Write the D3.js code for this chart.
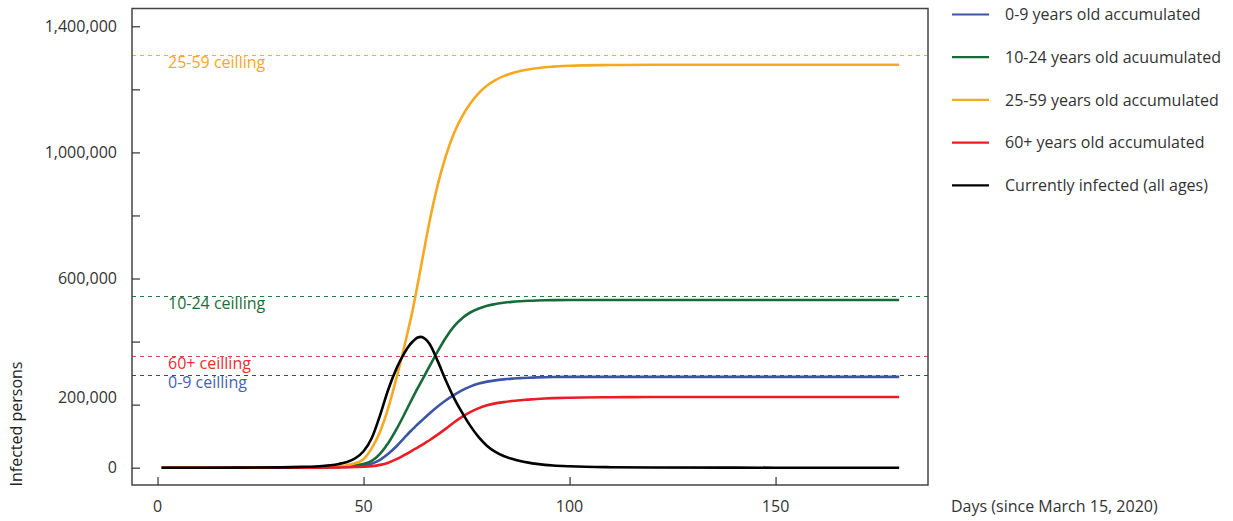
<!DOCTYPE html>
<html>
<head>
<meta charset="utf-8">
<script src="https://cdn.jsdelivr.net/npm/d3@7"></script>
<style>
  html, body { margin: 0; padding: 0; background: #fff; }
  svg { display: block; font-family: "Open Sans", "Noto Sans", sans-serif; }
</style>
</head>
<body>
<svg id="chart" width="1233" height="521"></svg>
<script>
// ---- data ----
const days = [1,10,20,30,35,40,42,44,46,48,50,52,54,56,58,60,61,62,63,64,65,66,68,70,72,74,76,78,80,82,84,86,88,90,92,94,96,100,110,120,140,160,180];

const age0_9 = [0,0,0,100,300, 800,1200,1800,2600,4500, 7000,13000,25000,44000,68000, 96000,110000,123000,136000,148000, 160000,172000,194000,214000,231000, 246000,258000,267000,273000,277000, 280000,282500,284000,285500,286500, 287000,287500,288000,288000,288000, 288000,288000,288000];
const age10_24 = [0,0,0,300,800, 1500,2200,3200,4800,7500, 12000,22000,44000,78000,122000, 172000,198000,224000,249000,273000, 297000,321000,369000,413000,449000, 475000,493000,505000,514000,519000, 523000,526000,528000,529500,530500, 531000,531500,532000,532000,532000, 532000,532000,532000];
const age25_59 = [0,0,0,300,800, 2000,3000,5000,8000,14000, 27000,62000,114000,190000,285000, 390000,446000,505000,572000,642000, 712000,780000,897000,990000,1062000, 1116000,1157000,1189000,1212000,1229000, 1242000,1251000,1258000,1263000,1267000, 1270000,1272000,1275000,1277000,1278000, 1278000,1278000,1278000];
const age60 = [0,0,0,50,100, 300,500,800,1200,2000, 3000,5000,9000,16000,27000, 41000,48000,56000,63000,71000, 79000,87000,105000,124000,144000, 162000,177000,189000,198000,204000, 208000,211500,214000,216000,218000, 219500,220500,222000,223500,224000, 224000,224000,224000];
const current = [0,0,200,1000,2500, 5500,8000,12000,18000,30000, 52000,94000,166000,248000,315000, 366000,386000,401000,412000,415000, 408000,393000,338000,276000,220000, 173000,131000,96000,69000,50000, 37000,28000,21000,16000,12000, 9000,7000,4500,1500,500, 100,0,0];

const seriesNames = ["0-9 years old accumulated","10-24 years old acuumulated","25-59 years old accumulated","60+ years old accumulated","Currently infected (all ages)"];
const seriesColors = ["#3c55a5","#176b39","#f7a823","#ec1c24","#000000"];

const ceilingLabels = ["25-59 ceilling","10-24 ceilling","60+ ceilling","0-9 ceilling"];
const ceilingValues = [1309000, 545000, 355500, 293000];
const ceilingLineColors = ["#f5aa3a","#237a47","#e0404f","#2f4596"];
const ceilingTextColors = ["#f7a823","#1d6b3c","#ee2a35","#4563b0"];

const yMajorTicks = [0, 200000, 600000, 1000000, 1400000];
const yMinorTicks = [400000, 800000, 1200000];
const xTicks = [0, 50, 100, 150];

const xTitle = "Days (since March 15, 2020)";
const yTitle = "Infected persons";

// ---- layout ----
const svg = d3.select("#chart");
const L = 132, R = 928, T = 8.5, B = 485;
const FS = 16;

const x = d3.scaleLinear().domain([-6.2, 187]).range([L, R]);
const y = d3.scaleLinear().domain([-54900, 1456400]).range([B, T]);

svg.append("rect").attr("width",1233).attr("height",521).attr("fill","#fff");

// ceilings
const cg = svg.append("g");
ceilingValues.forEach((v,i) => {
  const yy = Math.round(y(v)) + 0.5;
  cg.append("line")
    .attr("x1", L).attr("x2", R)
    .attr("y1", yy).attr("y2", yy)
    .attr("stroke", ceilingLineColors[i]).attr("stroke-width", 1)
    .attr("stroke-dasharray", "4,4");
  cg.append("text")
    .attr("x", 168).attr("y", y(v) + 13)
    .attr("fill", ceilingTextColors[i])
    .attr("font-size", FS)
    .text(ceilingLabels[i]);
});

// series
const allSeries = [age0_9, age10_24, age25_59, age60, current];
const line = d3.line()
  .x((d,i) => x(days[i]))
  .y(d => y(d))
  .curve(d3.curveMonotoneX);

allSeries.forEach((s,i) => {
  svg.append("path")
    .datum(s)
    .attr("d", line)
    .attr("fill","none")
    .attr("stroke", seriesColors[i])
    .attr("stroke-width", 2.6)
    .attr("stroke-linejoin","round");
});

// frame
svg.append("rect")
  .attr("x", L).attr("y", T).attr("width", R-L).attr("height", B-T)
  .attr("fill","none").attr("stroke","#444").attr("stroke-width",1.5);

// y axis ticks (inward)
const yAxis = d3.axisRight(y)
  .tickValues(yMajorTicks.concat(yMinorTicks))
  .tickSize(8)
  .tickFormat("");
const yg = svg.append("g").attr("transform", `translate(${L},0)`).call(yAxis);
yg.select(".domain").remove();
yg.selectAll(".tick line").attr("stroke","#333").attr("stroke-width",1.2);

// y labels
svg.append("g").selectAll("text")
  .data(yMajorTicks)
  .join("text")
  .attr("x", L - 15)
  .attr("y", d => y(d) + (d === 200000 ? -7.5 : 0))
  .attr("dy", "0.35em")
  .attr("text-anchor","end")
  .attr("font-size", FS)
  .attr("fill","#333")
  .text(d => d3.format(",")(d));

// x axis ticks (inward)
const xAxis = d3.axisTop(x).tickValues(xTicks).tickSize(8).tickFormat("");
const xg = svg.append("g").attr("transform", `translate(0,${B})`).call(xAxis);
xg.select(".domain").remove();
xg.selectAll(".tick line").attr("stroke","#333").attr("stroke-width",1.2);

svg.append("g").selectAll("text")
  .data(xTicks)
  .join("text")
  .attr("x", d => x(d))
  .attr("y", 512)
  .attr("text-anchor","middle")
  .attr("font-size", FS)
  .attr("fill","#333")
  .text(d => d);

// axis titles
svg.append("text")
  .attr("x", 951).attr("y", 512)
  .attr("font-size", FS).attr("fill","#333")
  .text(xTitle);

svg.append("text")
  .attr("transform", "translate(22,424) rotate(-90)")
  .attr("text-anchor","middle")
  .attr("font-size", FS).attr("fill","#222")
  .text(yTitle);

// legend
const lg = svg.append("g");
seriesNames.forEach((n,i) => {
  const ly = 14.5 + i * 42.7;
  lg.append("line")
    .attr("x1", 952).attr("x2", 989)
    .attr("y1", ly).attr("y2", ly)
    .attr("stroke", seriesColors[i]).attr("stroke-width", 2.2);
  lg.append("text")
    .attr("x", 1005).attr("y", ly)
    .attr("dy","0.35em")
    .attr("font-size", FS).attr("fill","#333")
    .text(n);
});
</script>
</body>
</html>
